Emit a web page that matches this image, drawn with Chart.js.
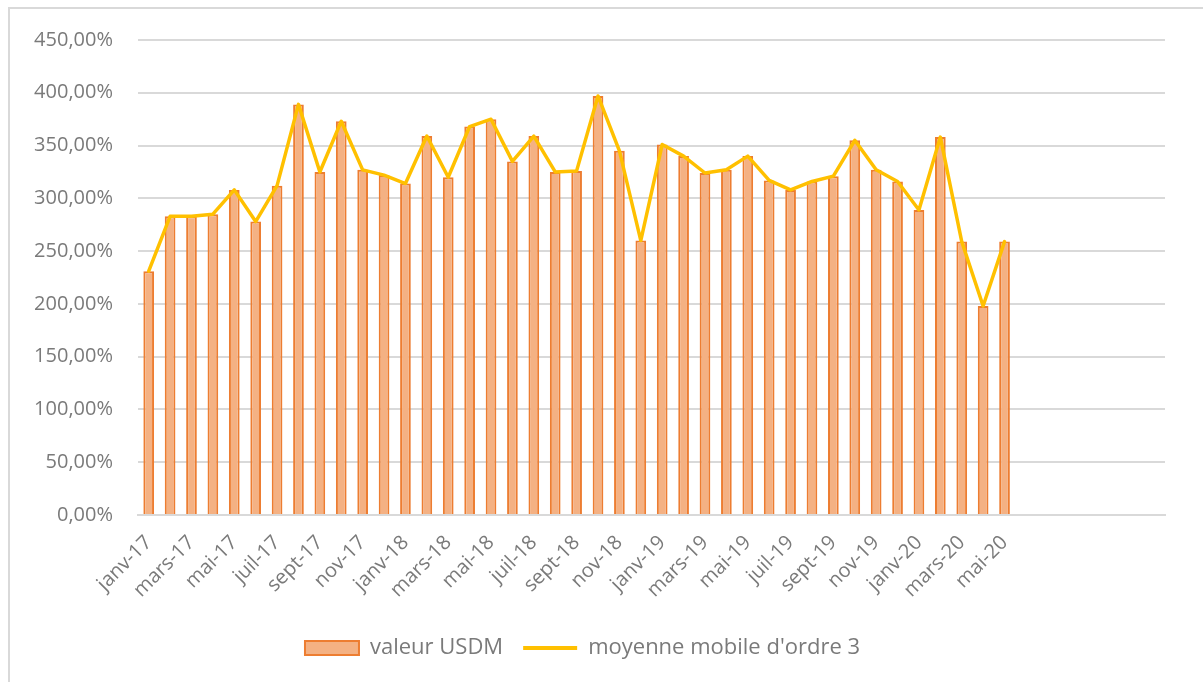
<!DOCTYPE html>
<html>
<head>
<meta charset="utf-8">
<script src="https://cdn.jsdelivr.net/npm/chart.js@4/dist/chart.umd.min.js"></script>
<style>
  html, body { margin: 0; padding: 0; background: #fff; }
  #wrap { position: absolute; left: 0; top: 0; width: 1203px; height: 682px; }
  #frame { position: absolute; left: 8px; top: 7px; right: 0; bottom: 0;
           border-left: 2px solid #d9d9d9; border-top: 2px solid #d9d9d9; }
</style>
</head>
<body>
<div id="wrap">
  <div id="frame"></div>
  <canvas id="chart" width="1203" height="682"></canvas>
</div>
<script>
const mois = [
  'janv-17', 'févr-17', 'mars-17', 'avr-17', 'mai-17', 'juin-17', 'juil-17', 'août-17', 'sept-17', 'oct-17', 'nov-17', 'déc-17',
  'janv-18', 'févr-18', 'mars-18', 'avr-18', 'mai-18', 'juin-18', 'juil-18', 'août-18', 'sept-18', 'oct-18', 'nov-18', 'déc-18',
  'janv-19', 'févr-19', 'mars-19', 'avr-19', 'mai-19', 'juin-19', 'juil-19', 'août-19', 'sept-19', 'oct-19', 'nov-19', 'déc-19',
  'janv-20', 'févr-20', 'mars-20', 'avr-20', 'mai-20', 'juin-20', 'juil-20', 'août-20', 'sept-20', 'oct-20', 'nov-20', 'déc-20'
];

// valeur USDM en %
const valeurUSDM = [
  231, 283, 283, 285, 308, 278, 312, 389, 325, 373, 327, 322,
  314, 359, 320, 368, 375, 335, 359, 325, 326, 397, 345, 260,
  351, 340, 324, 327, 340, 317, 308, 316, 321, 355, 327, 316,
  289, 358, 259, 198, 259
];

const moyenneMobile = [
  231, 283, 283, 285, 308, 278, 312, 389, 325, 373, 327, 322,
  314, 359, 320, 368, 375, 335, 359, 325, 326, 397, 345, 260,
  351, 340, 324, 327, 340, 317, 308, 316, 321, 355, 327, 316,
  289, 358, 259, 198, 259
];

const yTicks = [0, 50, 100, 150, 200, 250, 300, 350, 400, 450];

const gris = '#7a7a7a';
const police = "'Open Sans', sans-serif";

new Chart(document.getElementById('chart').getContext('2d'), {
  data: {
    labels: mois,
    datasets: [
      {
        type: 'line',
        label: "moyenne mobile d'ordre 3",
        data: moyenneMobile,
        borderColor: '#FFC000',
        backgroundColor: '#FFC000',
        borderWidth: 3.5,
        borderJoinStyle: 'round',
        borderCapStyle: 'round',
        pointRadius: 0,
        tension: 0,
        order: 0
      },
      {
        type: 'bar',
        label: 'valeur USDM',
        data: valeurUSDM,
        backgroundColor: '#F4B183',
        borderColor: '#ED7D31',
        borderWidth: 2,
        barPercentage: 0.5,
        categoryPercentage: 1,
        order: 1
      }
    ]
  },
  options: {
    responsive: false,
    animation: false,
    layout: { padding: { left: 0, right: 38, top: 40, bottom: 13 } },
    plugins: {
      tooltip: { enabled: false },
      legend: {
        position: 'bottom',
        reverse: true,
        labels: {
          color: gris,
          font: { family: police, size: 22 },
          usePointStyle: true,
          pointStyleWidth: 54,
          boxHeight: 14,
          padding: 20,
          generateLabels(chart) {
            const items = Chart.defaults.plugins.legend.labels.generateLabels(chart);
            items.forEach(it => {
              const ds = chart.data.datasets[it.datasetIndex];
              if (ds.type === 'line') {
                it.pointStyle = 'line';
                it.lineWidth = 4;
                it.strokeStyle = '#FFC000';
              } else {
                it.pointStyle = 'rect';
                it.lineWidth = 2;
              }
            });
            return items;
          }
        }
      }
    },
    scales: {
      x: {
        grid: { display: false },
        border: { color: '#d9d9d9', width: 2 },
        ticks: {
          color: gris,
          font: { family: police, size: 20 },
          autoSkip: false,
          maxRotation: 45,
          minRotation: 45,
          padding: 8,
          callback(value, index) {
            return (index % 2 === 0 && index < valeurUSDM.length) ? mois[index] : '';
          }
        },
        afterFit(scale) { scale.height = 102; }
      },
      y: {
        min: 0,
        max: 450,
        afterBuildTicks(scale) { scale.ticks = yTicks.map(v => ({ value: v })); },
        grid: { color: '#d9d9d9', lineWidth: 2, drawTicks: false },
        border: { display: false },
        ticks: {
          color: gris,
          font: { family: police, size: 20 },
          padding: 25,
          callback(value) { return value.toFixed(2).replace('.', ',') + '%'; }
        },
        afterFit(scale) { scale.width = 138; }
      }
    }
  }
});
</script>
</body>
</html>
